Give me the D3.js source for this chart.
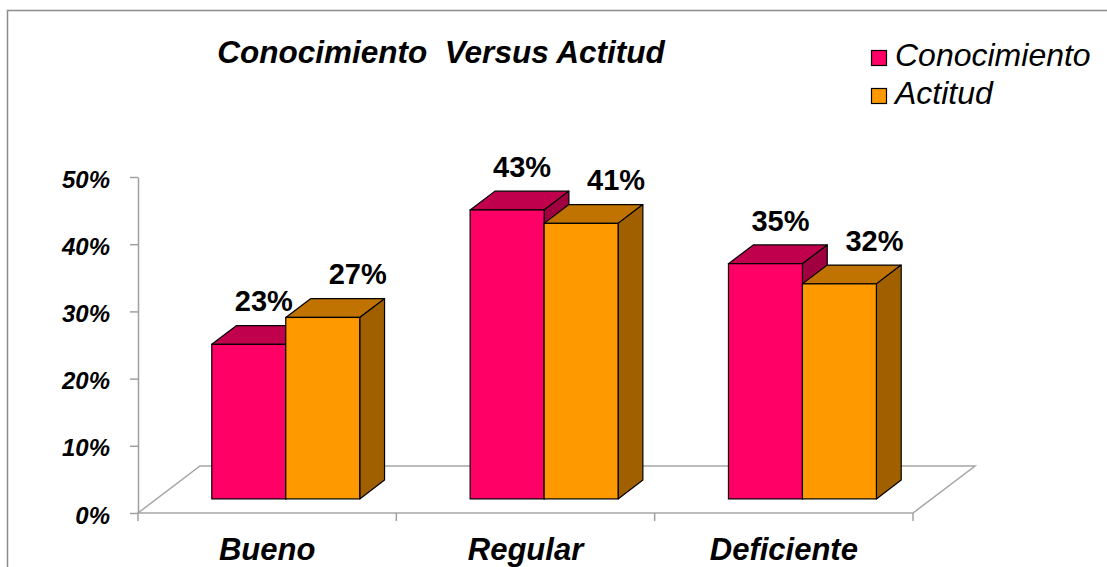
<!DOCTYPE html>
<html>
<head>
<meta charset="utf-8">
<script src="https://cdn.jsdelivr.net/npm/d3@7"></script>
<style>
  html, body { margin: 0; padding: 0; background: #fff; }
  svg { display: block; font-family: "Liberation Sans", Arial, sans-serif; }
</style>
</head>
<body>
<svg id="chart" width="1107" height="567"></svg>
<script>
// Categories, series and values (fractions)
const categories = ["Bueno", "Regular", "Deficiente"];
const seriesNames = ["Conocimiento", "Actitud"];
const conocimiento = [0.23, 0.43, 0.35];
const actitud = [0.27, 0.41, 0.32];
const yTicks = [0, 0.1, 0.2, 0.3, 0.4, 0.5];
const chartTitle = "Conocimiento  Versus Actitud";

const seriesValues = [conocimiento, actitud];
const faceColors = [
  { front: "#FF0066", top: "#C0004D", side: "#A00040" },
  { front: "#FF9900", top: "#C07300", side: "#A06000" }
];

const svg = d3.select("#chart");

// Plot frame (front plane) and oblique depth vector of the floor
const x0 = 138, x1 = 913, yBase = 513, yTop = 177;
const depth = { dx: 62, dy: -47 };
const barDepthStart = 0.3, barDepthEnd = 0.7;

const y = d3.scaleLinear().domain([0, 0.5]).range([yBase, yTop]);
const xCat = d3.scaleBand().domain(categories).range([x0, x1]).padding(0);
const xSer = d3.scaleBand().domain(seriesNames).range([0, xCat.bandwidth()])
  .paddingInner(0).paddingOuter(0.746);

// Chart border (top and left edges visible)
svg.append("path")
  .attr("d", "M7.5,567 L7.5,10.5 L1107,10.5")
  .attr("fill", "none").attr("stroke", "#8c8c8c").attr("stroke-width", 1.5);

// Title
svg.append("text")
  .attr("x", 441).attr("y", 63)
  .attr("text-anchor", "middle")
  .attr("font-size", 31.5).attr("font-weight", "bold").attr("font-style", "italic")
  .attr("fill", "#000")
  .attr("xml:space", "preserve")
  .style("white-space", "pre")
  .text(chartTitle);

// Floor parallelogram
const floorPts = [
  [x0, yBase], [x1, yBase],
  [x1 + depth.dx, yBase + depth.dy], [x0 + depth.dx, yBase + depth.dy]
];
svg.append("polygon")
  .attr("points", floorPts.map(p => p.join(",")).join(" "))
  .attr("fill", "#fff").attr("stroke", "#a6a6a6").attr("stroke-width", 1.5);

// Y axis
const yAxis = d3.axisLeft(y).tickValues(yTicks).tickSize(8).tickSizeOuter(0)
  .tickPadding(20).tickFormat(d3.format(".0%"));
const gy = svg.append("g").attr("transform", `translate(${x0},0)`).call(yAxis);
gy.select(".domain").attr("stroke", "#a0a0a0").attr("stroke-width", 1.5);
gy.selectAll(".tick line").attr("stroke", "#a0a0a0").attr("stroke-width", 1.5);
gy.selectAll(".tick text")
  .attr("font-size", 24).attr("font-weight", "bold").attr("font-style", "italic")
  .attr("font-family", "Liberation Sans, Arial, sans-serif")
  .attr("fill", "#000").attr("dy", "0.42em");

// X axis: boundary ticks and category labels
const boundaries = categories.map(c => xCat(c)).concat([x1]);
svg.append("g").selectAll("line").data(boundaries).join("line")
  .attr("x1", d => d).attr("x2", d => d)
  .attr("y1", yBase).attr("y2", yBase + 8)
  .attr("stroke", "#a0a0a0").attr("stroke-width", 1.5);

const xAxis = d3.axisBottom(xCat).tickSize(0).tickPadding(0);
const gx = svg.append("g").attr("transform", `translate(0,${yBase})`).call(xAxis);
gx.select(".domain").remove();
gx.selectAll(".tick text")
  .attr("y", 47).attr("dy", 0)
  .attr("font-size", 31).attr("font-weight", "bold").attr("font-style", "italic")
  .attr("font-family", "Liberation Sans, Arial, sans-serif")
  .attr("fill", "#000");

// 3D bars
const bx = depth.dx * barDepthStart, by = depth.dy * barDepthStart;
const bdx = depth.dx * (barDepthEnd - barDepthStart);
const bdy = depth.dy * (barDepthEnd - barDepthStart);

const bars = [];
categories.forEach((c, ci) => {
  seriesNames.forEach((s, si) => {
    bars.push({ c, s, si, v: seriesValues[si][ci] });
  });
});

const poly = pts => pts.map(p => p.join(",")).join(" ");
const gBars = svg.append("g");
bars.forEach(b => {
  const left = xCat(b.c) + xSer(b.s) + bx;
  const right = left + xSer.bandwidth();
  const bottom = y(0) + by;
  const top = y(b.v) + by;
  const col = faceColors[b.si];
  const g = gBars.append("g");
  g.append("polygon")
    .attr("points", poly([[left, top], [right, top], [right + bdx, top + bdy], [left + bdx, top + bdy]]))
    .attr("fill", col.top).attr("stroke", "#000").attr("stroke-width", 1.2).attr("stroke-linejoin", "round");
  g.append("polygon")
    .attr("points", poly([[right, bottom], [right + bdx, bottom + bdy], [right + bdx, top + bdy], [right, top]]))
    .attr("fill", col.side).attr("stroke", "#000").attr("stroke-width", 1.2).attr("stroke-linejoin", "round");
  g.append("rect")
    .attr("x", left).attr("y", top)
    .attr("width", right - left).attr("height", bottom - top)
    .attr("fill", col.front).attr("stroke", "#000").attr("stroke-width", 1.2);
  b.labelX = (left + right) / 2 + 15 + 20 * b.si;
  b.labelY = top - 33;
});

// Value labels
svg.append("g").selectAll("text").data(bars).join("text")
  .attr("x", d => d.labelX).attr("y", d => d.labelY)
  .attr("text-anchor", "middle")
  .attr("font-size", 29).attr("font-weight", "bold")
  .attr("fill", "#000")
  .text(d => d3.format(".0%")(d.v));

// Legend
const legend = svg.append("g").selectAll("g").data(seriesNames).join("g")
  .attr("transform", (d, i) => `translate(871,${50 + i * 38})`);
legend.append("rect")
  .attr("x", 0.5).attr("y", 0.5).attr("width", 15).attr("height", 15)
  .attr("fill", (d, i) => faceColors[i].front)
  .attr("stroke", "#000").attr("stroke-width", 1.2);
legend.append("text")
  .attr("x", 24).attr("y", 16)
  .attr("font-size", 32).attr("font-style", "italic")
  .attr("fill", "#000")
  .text(d => d);
</script>
</body>
</html>
